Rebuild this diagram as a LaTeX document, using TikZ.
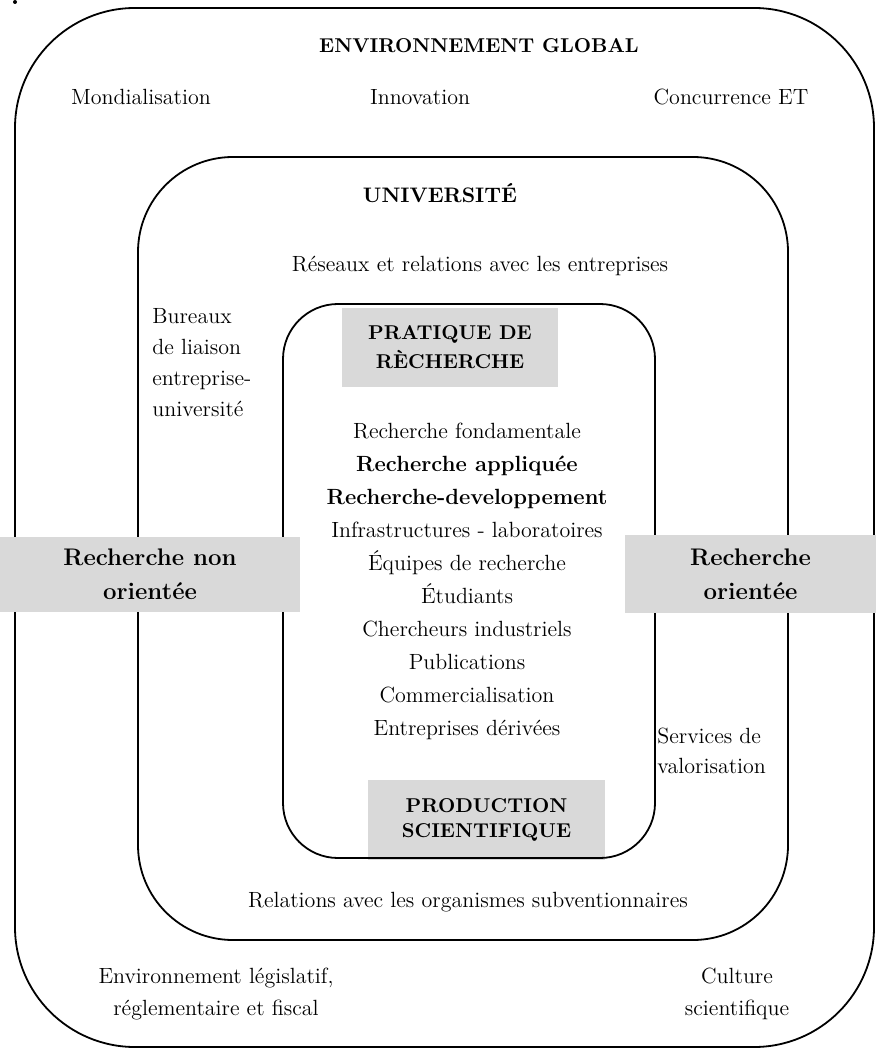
\documentclass[tikz,border=0pt]{standalone}
\usepackage{amsmath}
\usetikzlibrary{positioning}
\tikzset{every node/.style={font=\rmfamily}}
\colorlet{mygris}{black!15}
\tikzset{
  boite/.style={line width=0.9pt, rounded corners=#1},
  grisbox/.style={fill=mygris, inner sep=0pt, align=center},
  txt/.style={font=\rmfamily\fontsize{11}{16.5}\selectfont, inner sep=0pt},
  titre/.style={font=\rmfamily\bfseries\fontsize{10}{14.5}\selectfont, inner sep=0pt},
}

\begin{document}
\begin{tikzpicture}[x=0.5pt, y=-0.5pt]

\useasboundingbox (0,0) rectangle (876,1052);

% 灰色框(中间)
\node[grisbox, titre, minimum width=108pt, minimum height=39.5pt] (pratique) at (450,347.5) {PRATIQUE DE\\RÈCHERCHE};
\node[grisbox, titre, font=\rmfamily\bfseries\fontsize{10}{12.5}\selectfont,
      minimum width=118.5pt, minimum height=40pt] (production) at (486.5,820) {PRODUCTION\\SCIENTIFIQUE};

% 三个圆角矩形
\draw[boite=60pt] (15,8) rectangle (874,1047);
\draw[boite=47.5pt] (138,157) rectangle (788,940);
\draw[boite=27.5pt] (283,304) rectangle (655,858);

\fill (15,2) circle (1pt);

% 外层文字
\node[titre, anchor=base] (envglobal) at (479,53) {ENVIRONNEMENT GLOBAL};
\node[txt, anchor=base] (mondial) at (141,105) {Mondialisation};
\node[txt, anchor=base] (innov) at (420,105) {Innovation};
\node[txt, anchor=base] (concur) at (731,105) {Concurrence ET};

\node[txt, align=center, font=\rmfamily\fontsize{11}{16}\selectfont] (legis) at (216,993.5) {Environnement législatif,\\réglementaire et fiscal};
\node[txt, align=center, font=\rmfamily\fontsize{11}{16}\selectfont] (culture) at (737,993.5) {Culture\\scientifique};

% 大学
\node[titre, anchor=base, font=\rmfamily\bfseries\fontsize{10.5}{14}\selectfont] (univ) at (440,203) {UNIVERSITÉ};
\node[txt, anchor=base] (reseaux) at (480,272) {Réseaux et relations avec les entreprises};
\node[txt, align=left, anchor=west, font=\rmfamily\fontsize{11}{15.5}\selectfont] (bureaux) at (152,362.5) {Bureaux\\de liaison\\entreprise-\\université};
\node[txt, align=left, anchor=west, font=\rmfamily\fontsize{11}{15}\selectfont] (services) at (657,750.5) {Services de\\valorisation};
\node[txt, anchor=base] (relations) at (468,907) {Relations avec les organismes subventionnaires};

% 列表
\foreach \ligne [count=\i] in {Recherche fondamentale, {\bfseries Recherche appliquée},
    {\bfseries Recherche-developpement}, Infrastructures - laboratoires,
    Équipes de recherche, Étudiants, Chercheurs industriels, Publications,
    Commercialisation, Entreprises dérivées}
  \node[txt, anchor=base] (liste-\i) at (467,{405+33*\i}) {\ligne};

% 灰色框(两侧)
\node[grisbox, font=\rmfamily\bfseries\fontsize{12}{17}\selectfont,
      minimum width=150pt, minimum height=37.5pt] (nonorient) at (150,574.5) {Recherche non\\orientée};
\node[grisbox, font=\rmfamily\bfseries\fontsize{12}{17}\selectfont,
      minimum width=125.5pt, minimum height=39pt] (orient) at (750.5,574) {Recherche\\orientée};

\end{tikzpicture}
\end{document}
